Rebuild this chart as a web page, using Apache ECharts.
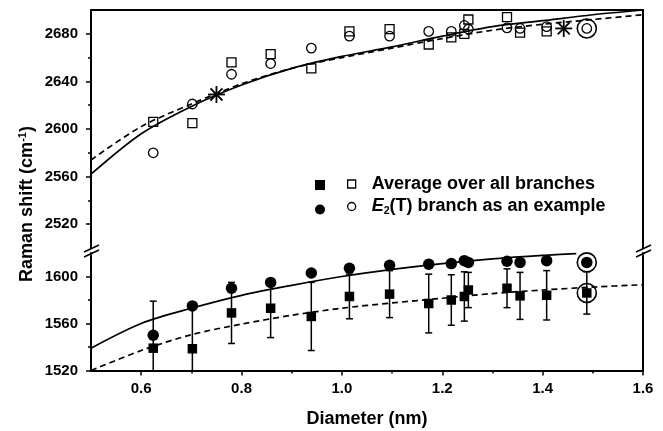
<!DOCTYPE html>
<html><head><meta charset="utf-8">
<script src="https://cdn.jsdelivr.net/npm/echarts@6/dist/echarts.min.js"></script>
<style>html,body{margin:0;padding:0;background:#fff}#c{width:663px;height:431px}</style>
</head><body><div id="c"></div>
<script>
// ---- data ----
const diameters   = [0.624, 0.702, 0.780, 0.858, 0.939, 1.015, 1.095, 1.173, 1.218, 1.244, 1.252, 1.329, 1.355, 1.408, 1.488];
const avgTop      = [2606, 2605, 2656, 2663, 2651, 2682, 2684, 2671, 2677, 2680, 2692, 2694, 2681, 2682, null];
const e2Top       = [2580, 2621, 2646, 2655, 2668, 2678, 2678, 2682, 2682, 2687, 2684, 2685, 2684.5, 2686, 2684.5];
const avgBottom   = [1539, 1538.5, 1569, 1573, 1566, 1583, 1585, 1577, 1580, 1583, 1588.5, 1590, 1583.5, 1584, 1586];
const avgBottomErr= [40, 36, 26, 25, 29, 19, 20, 25, 21.5, 21, 15, 16.5, 20, 21, 18];
const e2Bottom    = [1550, 1575, 1590, 1595, 1603, 1607, 1609.5, 1610.5, 1611, 1613.5, 1612, 1613, 1612, 1613.5, 1612];

const fitX           = [0.5, 0.6, 0.7, 0.8, 0.9, 1.0, 1.1, 1.2, 1.3, 1.4, 1.5, 1.6];
const fitTopSolid    = [2562, 2596, 2619, 2637, 2651, 2661, 2669, 2678, 2686, 2691, 2696, 2700];
const fitTopDashed   = [2574, 2602, 2621, 2638, 2651, 2660, 2668, 2676, 2683, 2688, 2692, 2696];
const fitBotSolidX   = [0.5, 0.6, 0.7, 0.8, 0.9, 1.0, 1.1, 1.2, 1.3, 1.4, 1.467];
const fitBotSolid    = [1539, 1560, 1573, 1584, 1592.5, 1600, 1606, 1611, 1615, 1618, 1619.5];
const fitBotDashed   = [1520, 1537, 1550.5, 1559.5, 1567, 1573, 1577.5, 1581.5, 1585.5, 1588.5, 1591, 1593];

const asteriskX = [0.75, 1.442];
const asteriskY = [2629, 2684.5];
const ringX = [1.488];
const ringTopY = [2684.5];
const ringBottomY = [1612, 1586];

const xTicks = [0.6, 0.8, 1.0, 1.2, 1.4, 1.6];
const xMinor = [0.7, 0.9, 1.1, 1.3, 1.5];
const yTopTicks = [2520, 2560, 2600, 2640, 2680];
const yTopMinor = [2540, 2580, 2620, 2660];
const yBotTicks = [1520, 1560, 1600];
const yBotMinor = [1540, 1580];

const nameAvg = 'Average over all branches';
const nameE2 = 'E2(T) branch as an example';
const nameAvgF = 'Average over all branches (filled)';
const nameE2F = 'E2(T) branch as an example (filled)';

// ---- helpers ----
const zip = (xs, ys) => xs.map((x, i) => [x, ys[i]]);
const FONT = "'Liberation Sans', Arial, sans-serif";
const BLK = '#000';
const hollow = { color: 'rgba(255,255,255,0)', borderColor: BLK, borderWidth: 1.3, opacity: 1 };
const filled = { color: BLK, opacity: 1 };
const ringStyle = { color: 'rgba(255,255,255,0)', borderColor: BLK, borderWidth: 1.6, opacity: 1 };
const plainNum = v => String(v);
const tickFont = { color: BLK, fontFamily: FONT, fontWeight: 'bold', fontSize: 15 };

function yAxisBase(gi, min, max) {
  return { gridIndex: gi, type: 'value', min, max, splitLine: { show: false } };
}

const chart = echarts.init(document.getElementById('c'), null, { renderer: 'canvas' });
const option = {
  backgroundColor: '#fff',
  animation: false,
  textStyle: { fontFamily: FONT },
  grid: [
    { left: 91, right: 20, top: 10, height: 238 },
    { left: 91, right: 20, top: 253, bottom: 60.5 }
  ],
  xAxis: [
    { gridIndex: 0, type: 'value', min: 0.5, max: 1.6, position: 'top',
      axisLine: { show: true, lineStyle: { color: BLK, width: 2 } },
      axisTick: { show: false }, axisLabel: { show: false }, splitLine: { show: false } },
    { gridIndex: 1, type: 'value', min: 0.5, max: 1.6, position: 'bottom',
      name: 'Diameter (nm)', nameLocation: 'middle', nameGap: 40,
      nameTextStyle: { fontFamily: FONT, fontWeight: 'bold', fontSize: 18, color: BLK },
      axisLine: { show: true, onZero: false, lineStyle: { color: BLK, width: 2 } },
      axisTick: { show: true, customValues: xTicks, length: 5, lineStyle: { color: BLK, width: 1.5 } },
      axisLabel: Object.assign({ customValues: xTicks, margin: 11, formatter: v => Number(v).toFixed(1) }, tickFont),
      splitLine: { show: false } },
    { gridIndex: 1, type: 'value', min: 0.5, max: 1.6, position: 'bottom',
      axisLine: { show: false, onZero: false },
      axisTick: { show: true, customValues: xMinor, length: 3, lineStyle: { color: BLK, width: 1.5 } },
      axisLabel: { show: false }, splitLine: { show: false } }
  ],
  yAxis: [
    Object.assign(yAxisBase(0, 2500, 2700), { position: 'left',
      axisLine: { show: true, onZero: false, lineStyle: { color: BLK, width: 2 } },
      axisTick: { show: true, customValues: yTopTicks, length: 5, lineStyle: { color: BLK, width: 1.5 } },
      axisLabel: Object.assign({ customValues: yTopTicks, margin: 13, formatter: plainNum }, tickFont) }),
    Object.assign(yAxisBase(0, 2500, 2700), { position: 'left',
      axisLine: { show: false, onZero: false },
      axisTick: { show: true, customValues: yTopMinor, length: 3, lineStyle: { color: BLK, width: 1.5 } },
      axisLabel: { show: false } }),
    Object.assign(yAxisBase(0, 2500, 2700), { position: 'right',
      axisLine: { show: true, onZero: false, lineStyle: { color: BLK, width: 2 } },
      axisTick: { show: false }, axisLabel: { show: false } }),
    Object.assign(yAxisBase(1, 1520, 1620), { position: 'left',
      axisLine: { show: true, onZero: false, lineStyle: { color: BLK, width: 2 } },
      axisTick: { show: true, customValues: yBotTicks, length: 5, lineStyle: { color: BLK, width: 1.5 } },
      axisLabel: Object.assign({ customValues: yBotTicks, margin: 13, formatter: plainNum }, tickFont) }),
    Object.assign(yAxisBase(1, 1520, 1620), { position: 'left',
      axisLine: { show: false, onZero: false },
      axisTick: { show: true, customValues: yBotMinor, length: 3, lineStyle: { color: BLK, width: 1.5 } },
      axisLabel: { show: false } }),
    Object.assign(yAxisBase(1, 1520, 1620), { position: 'right',
      axisLine: { show: true, onZero: false, lineStyle: { color: BLK, width: 2 } },
      axisTick: { show: false }, axisLabel: { show: false } })
  ],
  legend: [
    { orient: 'vertical', left: 310, top: 175, itemWidth: 10, itemHeight: 10, itemGap: 14.5,
      selectedMode: false, formatter: () => '',
      data: [{ name: nameAvgF, icon: 'rect', itemStyle: filled }, { name: nameE2F, icon: 'circle', itemStyle: filled }] },
    { orient: 'vertical', left: 342, top: 170, itemWidth: 8, itemHeight: 8, itemGap: 4.5,
      selectedMode: false,
      data: [{ name: nameAvg, icon: 'rect', itemStyle: hollow }, { name: nameE2, icon: 'circle', itemStyle: hollow }],
      formatter: n => n === nameE2 ? '{i|E}{s|2}{t|(T) branch as an example}' : '{t|' + n + '}',
      textStyle: { color: BLK, fontFamily: FONT, fontWeight: 'bold', fontSize: 18, padding: [0, 0, 0, 11],
        rich: {
          t: { fontFamily: FONT, fontWeight: 'bold', fontSize: 18, lineHeight: 20, color: BLK },
          i: { fontFamily: FONT, fontWeight: 'bold', fontStyle: 'italic', fontSize: 18, lineHeight: 20, color: BLK },
          s: { fontFamily: FONT, fontWeight: 'bold', fontSize: 10.5, lineHeight: 20, verticalAlign: 'bottom', padding: [8, 0, 0, 0], color: BLK }
        } } }
  ],
  graphic: [
    { type: 'text', x: 27, y: 204, rotation: Math.PI / 2,
      style: { text: '{a|Raman shift (cm}{b|-1}{a|)}', align: 'center', verticalAlign: 'middle',
        rich: {
          a: { fontFamily: FONT, fontWeight: 'bold', fontSize: 18, fill: BLK, lineHeight: 22 },
          b: { fontFamily: FONT, fontWeight: 'bold', fontSize: 11, fill: BLK, lineHeight: 22, padding: [0, 0, 9, 0] }
        } } },
    // axis break marks
    { type: 'line', shape: { x1: 84, y1: 252, x2: 99, y2: 245 }, style: { stroke: BLK, lineWidth: 1.6 } },
    { type: 'line', shape: { x1: 84, y1: 257, x2: 99, y2: 250 }, style: { stroke: BLK, lineWidth: 1.6 } },
    { type: 'line', shape: { x1: 636, y1: 252, x2: 651, y2: 245 }, style: { stroke: BLK, lineWidth: 1.6 } },
    { type: 'line', shape: { x1: 636, y1: 257, x2: 651, y2: 250 }, style: { stroke: BLK, lineWidth: 1.6 } }
  ],
  series: [
    { name: 'fitTopSolid', type: 'line', xAxisIndex: 0, yAxisIndex: 0, data: zip(fitX, fitTopSolid),
      smooth: 0.3, showSymbol: false, silent: true, lineStyle: { color: BLK, width: 1.7 }, z: 2 },
    { name: 'fitTopDashed', type: 'line', xAxisIndex: 0, yAxisIndex: 0, data: zip(fitX, fitTopDashed),
      smooth: 0.3, showSymbol: false, silent: true, lineStyle: { color: BLK, width: 1.7, type: [6, 4] }, z: 2 },
    { name: 'fitBotSolid', type: 'line', xAxisIndex: 1, yAxisIndex: 3, data: zip(fitBotSolidX, fitBotSolid),
      smooth: 0.3, showSymbol: false, silent: true, lineStyle: { color: BLK, width: 1.7 }, z: 2 },
    { name: 'fitBotDashed', type: 'line', xAxisIndex: 1, yAxisIndex: 3, data: zip(fitX, fitBotDashed),
      smooth: 0.3, showSymbol: false, silent: true, lineStyle: { color: BLK, width: 1.7, type: [6, 4] }, z: 2 },
    { name: nameAvg, type: 'scatter', xAxisIndex: 0, yAxisIndex: 0,
      data: zip(diameters, avgTop).filter(d => d[1] != null),
      symbol: 'rect', symbolSize: 9, itemStyle: hollow, z: 3 },
    { name: nameE2, type: 'scatter', xAxisIndex: 0, yAxisIndex: 0, data: zip(diameters, e2Top),
      symbol: 'circle', symbolSize: 9.5, itemStyle: hollow, z: 3 },
    { name: 'asterisk', type: 'custom', xAxisIndex: 0, yAxisIndex: 0, data: zip(asteriskX, asteriskY), z: 4,
      renderItem: (params, api) => {
        const p = api.coord([api.value(0), api.value(1)]);
        const r = 8.5;
        const kids = [0, 45, 90, 135].map(a => {
          const t = a * Math.PI / 180, dx = r * Math.cos(t), dy = r * Math.sin(t);
          return { type: 'line', shape: { x1: p[0] - dx, y1: p[1] - dy, x2: p[0] + dx, y2: p[1] + dy },
                   style: { stroke: BLK, lineWidth: 1.8 } };
        });
        return { type: 'group', children: kids };
      } },
    { name: 'ringTop', type: 'scatter', xAxisIndex: 0, yAxisIndex: 0, data: zip(ringX, ringTopY),
      symbol: 'circle', symbolSize: 19, itemStyle: ringStyle, z: 4 },
    { name: 'errorBars', type: 'custom', xAxisIndex: 1, yAxisIndex: 3, z: 3,
      data: diameters.map((x, i) => [x, avgBottom[i], avgBottomErr[i]]),
      renderItem: (params, api) => {
        const x = api.value(0), y = api.value(1), e = api.value(2);
        const cs = params.coordSys;
        const top = api.coord([x, y + e]);
        const bot = api.coord([x, y - e]);
        const yMax = cs.y + cs.height;
        const hw = 3.5;
        const st = { stroke: BLK, lineWidth: 1.5 };
        const botY = Math.min(bot[1], yMax);
        const kids = [
          { type: 'line', shape: { x1: top[0], y1: top[1], x2: top[0], y2: botY }, style: st },
          { type: 'line', shape: { x1: top[0] - hw, y1: top[1], x2: top[0] + hw, y2: top[1] }, style: st }
        ];
        if (bot[1] <= yMax) kids.push({ type: 'line', shape: { x1: bot[0] - hw, y1: bot[1], x2: bot[0] + hw, y2: bot[1] }, style: st });
        return { type: 'group', children: kids };
      } },
    { name: nameAvgF, type: 'scatter', xAxisIndex: 1, yAxisIndex: 3, data: zip(diameters, avgBottom),
      symbol: 'rect', symbolSize: 9.5, itemStyle: filled, z: 4 },
    { name: nameE2F, type: 'scatter', xAxisIndex: 1, yAxisIndex: 3, data: zip(diameters, e2Bottom),
      symbol: 'circle', symbolSize: 11.5, itemStyle: filled, z: 4 },
    { name: 'ringBottom', type: 'scatter', xAxisIndex: 1, yAxisIndex: 3,
      data: ringBottomY.map(y => [ringX[0], y]),
      symbol: 'circle', symbolSize: 19, itemStyle: ringStyle, z: 5 }
  ]
};
chart.setOption(option);
</script>
</body></html>
